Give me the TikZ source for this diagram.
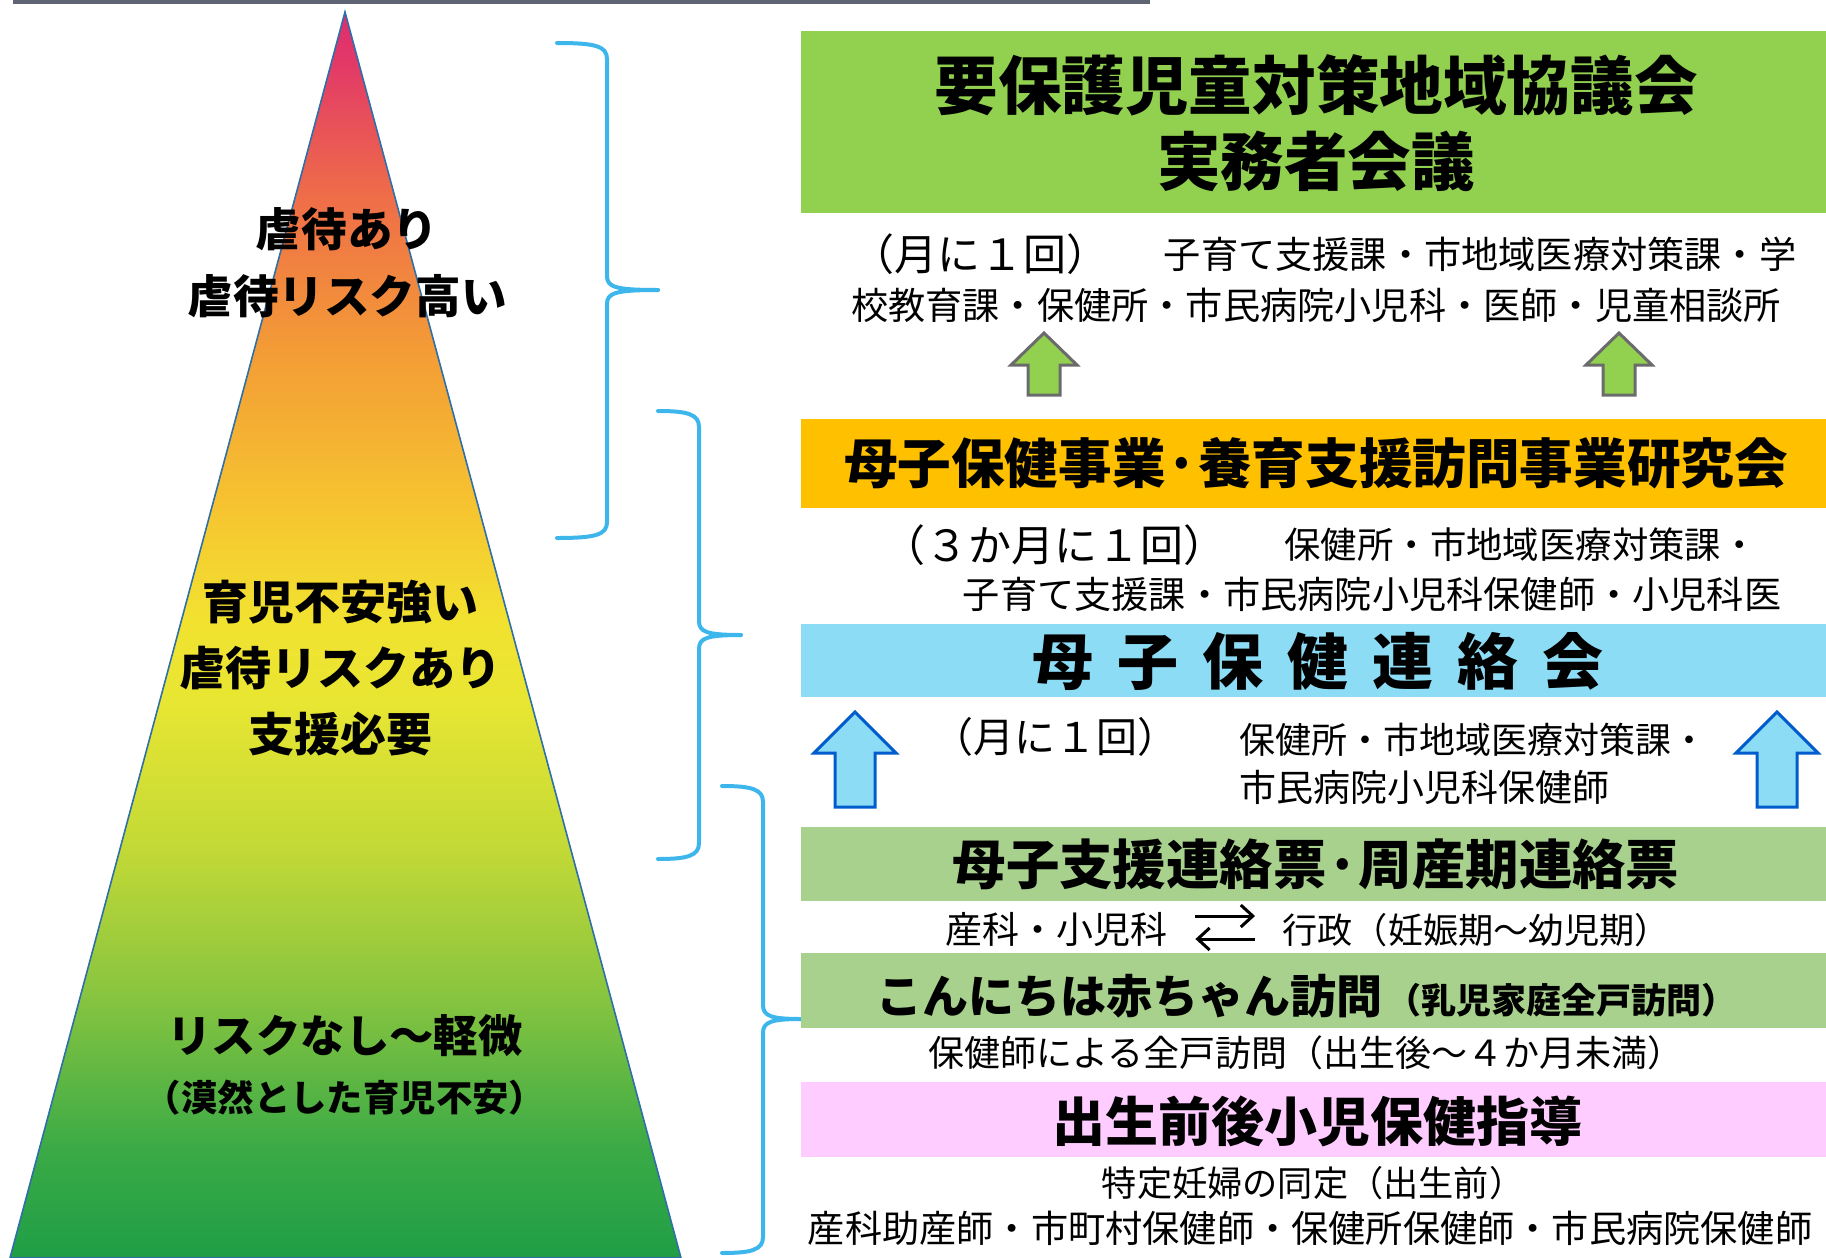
\documentclass[tikz,border=0pt]{standalone}
\usepackage{fontspec}
\setmainfont{Noto Sans CJK JP}
\usetikzlibrary{arrows.meta,positioning}

\definecolor{kyogreen}{HTML}{92D050}
\definecolor{kenorange}{HTML}{FFC000}
\definecolor{renblue}{HTML}{8DDCF5}
\definecolor{hyogreen}{HTML}{A9D18E}
\definecolor{shipink}{HTML}{FFCCFF}
\definecolor{brkblue}{HTML}{3DB6EC}
\definecolor{bargrey}{HTML}{5F6472}
\definecolor{triedge}{HTML}{2F6FA8}

\pgfdeclareverticalshading{pyramid}{100bp}{%
  color(0bp)=(rgb,255:red,31;green,158;blue,70); color(25bp)=(rgb,255:red,31;green,158;blue,70);
  color(29.3bp)=(rgb,255:red,58;green,170;blue,70);
  color(35.4bp)=(rgb,255:red,134;green,196;blue,64);
  color(41.4bp)=(rgb,255:red,194;green,217;blue,54);
  color(47.4bp)=(rgb,255:red,232;green,230;blue,50);
  color(50.6bp)=(rgb,255:red,242;green,226;blue,48);
  color(55.4bp)=(rgb,255:red,246;green,194;blue,48);
  color(61.4bp)=(rgb,255:red,243;green,156;blue,54);
  color(67.5bp)=(rgb,255:red,239;green,110;blue,72);
  color(73.1bp)=(rgb,255:red,226;green,56;blue,104);
  color(75bp)=(rgb,255:red,222;green,44;blue,112);
  color(100bp)=(rgb,255:red,222;green,44;blue,112)}

\tikzset{>={Straight Barb[length=6pt,width=11pt]}}
\tikzset{
  hd/.style 2 args={inner sep=0pt, align=center, font=\fontsize{#1}{#2}\selectfont\bfseries},
  txt/.style 2 args={inner sep=0pt, align=center, font=\fontsize{#1}{#2}\selectfont},
  brk/.style={draw=brkblue, line width=2pt, line cap=round},
  swp/.style={line width=1.5pt},
  grnarr/.style={fill=kyogreen, draw=black!58, line width=1.5pt, line join=miter},
  bluarr/.style={fill=renblue, draw=blue!55!cyan!80!black, line width=1.5pt, line join=miter},
  pics/grnup/.style={code={\draw[grnarr] (-33,0) -- (0,-32) -- (33,0) -- (16,0) -- (16,30) -- (-16,30) -- (-16,0) -- cycle;}},
  pics/bluup/.style={code={\draw[bluarr] (-41,0) -- (0,-41) -- (41,0) -- (20,0) -- (20,54) -- (-20,54) -- (-20,0) -- cycle;}}
}

\newcommand\Gap{\hspace{12pt}}

\begin{document}
\begin{tikzpicture}[x=0.5pt,y=-0.5pt]

  \useasboundingbox (0,0) rectangle (1826,1258);

  \newcommand\Brk[6]{%
    \draw[brk] (#1,#4) .. controls ({#2-12},#4) and (#2,{#4+3}) .. (#2,{#4+16})
      -- (#2,{#5-14}) .. controls (#2,{#5-3}) and ({#2+8},#5) .. (#3,#5);
    \draw[brk] (#3,#5) .. controls ({#2+8},#5) and (#2,{#5+3}) .. (#2,{#5+14})
      -- (#2,{#6-16}) .. controls (#2,{#6-3}) and ({#2-12},#6) .. (#1,#6);}

  \fill[bargrey] (13,0) rectangle (1150,4);

  %% pyramid
  \shadedraw[shading=pyramid, draw=triedge, line width=0.8pt] (10,1258) -- (345,12) -- (681,1258) -- cycle;

  \node[hd={22.8}{33.5}] (high) at (347,263) {虐待あり\\虐待リスク高い};
  \node[hd={23}{33}] (mid) at (340,668) {育児不安強い\\虐待リスクあり\\支援必要};
  \node[hd={22.2}{26}] (low) at (345,1036) {リスクなし～軽微};
  \node[hd={18.2}{20}] (lownote) at (345,1098) {（漠然とした育児不安）};

  %% brackets
  \Brk{557}{607}{658}{43}{290}{538}
  \Brk{658}{699}{741}{411}{635}{859}
  \Brk{722}{763}{801}{786}{1019}{1253}

  %% kyogikai
  \fill[kyogreen] (801,31) rectangle (1826,213);
  \node[hd={31.8}{38}] (kyogikai) at (1316,123) {要保護児童対策地域協議会\\実務者会議};
  \node[txt={21.5}{24}] (kyofreq) at (980,254) {（月に１回）};
  \node[txt={18.6}{22}] (kyomem1) at (1480,254) {子育て支援課・市地域医療対策課・学};
  \node[txt={18.6}{22}] (kyomem2) at (1316,305) {校教育課・保健所・市民病院小児科・医師・児童相談所};
  \pic at (1044,365) {grnup};
  \pic at (1619,365) {grnup};

  %% kenkyukai
  \fill[kenorange] (801,419) rectangle (1826,508);
  \node[hd={26.8}{30}] (kenkyu) at (1316,463) {母子保健事業·養育支援訪問事業研究会};
  \node[txt={21.5}{24}] (kenfreq) at (1054,545) {（３か月に１回）};
  \node[txt={18.2}{22}] (kenmem1) at (1521,545) {保健所・市地域医療対策課・};
  \node[txt={18.6}{22}] (kenmem2) at (1372,594) {子育て支援課・市民病院小児科保健師・小児科医};

  %% renrakukai
  \fill[renblue] (801,624) rectangle (1826,697);
  \node[hd={30.5}{34}] (renraku) at (1318,661) {母\Gap 子\Gap 保\Gap 健\Gap 連\Gap 絡\Gap 会};
  \node[txt={20.5}{24}] (renfreq) at (1055,737) {（月に１回）};
  \node[txt={18}{22}, anchor=west] (renmem1) at (1239,740) {保健所・市地域医療対策課・};
  \node[txt={18.5}{22}, anchor=west] (renmem2) at (1239,787) {市民病院小児科保健師};
  \pic at (855,753) {bluup};
  \pic at (1777,753) {bluup};

  %% renrakuhyo
  \fill[hyogreen] (801,827) rectangle (1826,901);
  \node[hd={26.7}{30}] (hyo) at (1316,864) {母子支援連絡票·周産期連絡票};
  \node[txt={18.5}{22}] (sanka) at (1056,930) {産科・小児科};
  \node[txt={17.6}{22}] (gyosei) at (1476,930) {行政（妊娠期～幼児期）};
  \draw[->, swp] ([xshift=14pt,yshift=7pt]sanka.east) -- ([xshift=-13.5pt,yshift=7pt]gyosei.west);
  \draw[->, swp] ([xshift=-13.5pt,yshift=-4.5pt]gyosei.west) -- ([xshift=14pt,yshift=-4.5pt]sanka.east);

  %% homon
  \fill[hyogreen] (801,953) rectangle (1826,1028);
  \node[hd={23}{26}] (akachan) at (1129,996) {こんにちは赤ちゃん訪問};
  \node[hd={17.5}{20}, anchor=base west] (nyuji) at ([xshift=2pt]akachan.base east) {（乳児家庭全戸訪問）};
  \node[txt={18}{22}] (zenko) at (1306,1053) {保健師による全戸訪問（出生後～４か月未満）};

  %% shido
  \fill[shipink] (801,1082) rectangle (1826,1157);
  \node[hd={26.5}{30}] (shido) at (1317,1121) {出生前後小児保健指導};
  \node[txt={17.6}{22}] (tokutei) at (1313,1183) {特定妊婦の同定（出生前）};
  \node[txt={18.6}{22}] (hokenshi) at (1310,1228) {産科助産師・市町村保健師・保健所保健師・市民病院保健師};

\end{tikzpicture}
\end{document}
